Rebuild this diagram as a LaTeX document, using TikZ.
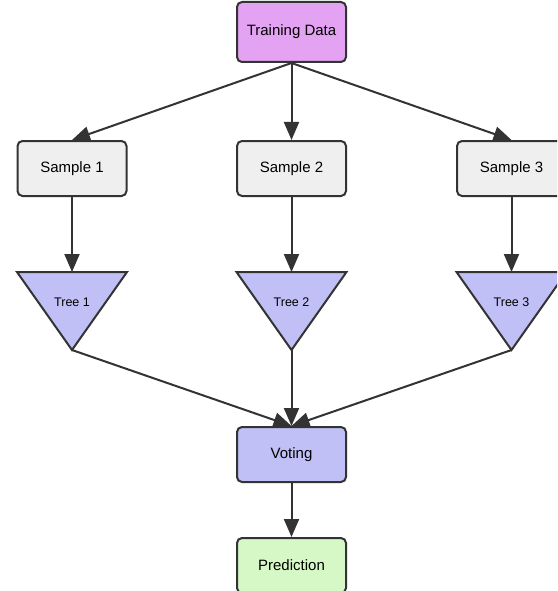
\documentclass[tikz,border=0pt]{standalone}
\usepackage{fontspec}
\setmainfont{Liberation Sans}
\usetikzlibrary{arrows.meta}
\definecolor{edgecol}{HTML}{333333}
\definecolor{datafill}{HTML}{E4A3F2}
\definecolor{samplefill}{HTML}{EFEFEF}
\definecolor{treefill}{HTML}{C0C0F7}
\definecolor{predfill}{HTML}{D5F8C6}
\tikzset{
  box/.style={draw=edgecol, line width=2pt, rounded corners=5pt,
    minimum width=109pt, minimum height=55pt, inner sep=0pt,
    font=\fontsize{15}{17}\selectfont},
  treeshape/.style={draw=edgecol, line width=2pt, fill=treefill, line join=miter},
  treelabel/.style={font=\fontsize{12.5}{14}\selectfont, inner sep=0pt},
  flow/.style={draw=edgecol, line width=2pt,
    -{Triangle[length=18pt,width=15pt]}},
}
\begin{document}
\begin{tikzpicture}[x=1pt,y=-1pt]
  \useasboundingbox (0,0) rectangle (557,591);
  \clip (0,0) rectangle (557,591);
  % data and bootstrap samples
  \node[box, fill=datafill, minimum height=60pt] (data) at (291.5,32) {Training Data};
  \node[box, fill=samplefill] (s1) at (72,168.5) {Sample 1};
  \node[box, fill=samplefill] (s2) at (291.5,168.5) {Sample 2};
  \node[box, fill=samplefill] (s3) at (511.5,168.5) {Sample 3};
  % decision trees drawn as downward triangles
  \draw[treeshape] (17,272) -- (127,272) -- (72,350) -- cycle;
  \draw[treeshape] (236.5,272) -- (346.5,272) -- (291.5,350) -- cycle;
  \draw[treeshape] (456.5,272) -- (566.5,272) -- (511.5,350) -- cycle;
  \coordinate (t1top) at (72,272);
  \coordinate (t2top) at (291.5,272);
  \coordinate (t3top) at (511.5,272);
  \coordinate (t1apex) at (72,350);
  \coordinate (t2apex) at (291.5,350);
  \coordinate (t3apex) at (511.5,350);
  \node[treelabel] (t1) at (72,302) {Tree 1};
  \node[treelabel] (t2) at (291.5,302) {Tree 2};
  \node[treelabel] (t3) at (511.5,302) {Tree 3};
  % aggregation
  \node[box, fill=treefill] (vote) at (291.5,454.5) {Voting};
  \node[box, fill=predfill] (pred) at (291.5,565.5) {Prediction};
  % connectors
  \draw[flow] (data.south) -- (s1.north);
  \draw[flow] (data.south) -- (s2.north);
  \draw[flow] (data.south) -- (s3.north);
  \draw[flow] (s1.south) -- (t1top);
  \draw[flow] (s2.south) -- (t2top);
  \draw[flow] (s3.south) -- (t3top);
  \draw[flow] (t1apex) -- (vote.north);
  \draw[flow] (t2apex) -- (vote.north);
  \draw[flow] (t3apex) -- (vote.north);
  \draw[flow] (vote.south) -- (pred.north);
\end{tikzpicture}
\end{document}
